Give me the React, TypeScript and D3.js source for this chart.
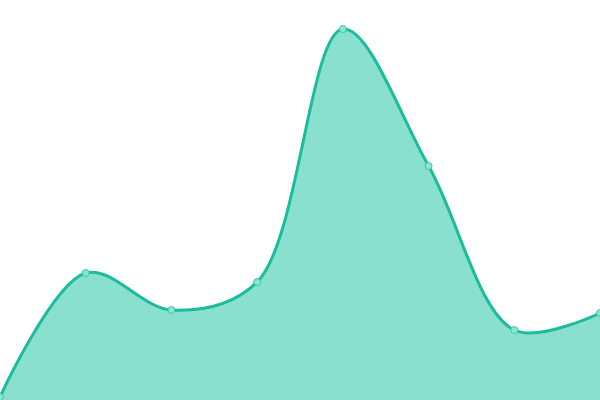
import React from "react";
import * as d3 from "d3";

const labels = ["A", "B", "C", "D", "E", "F", "G", "H"];
const values = [0.75, 31.75, 22.5, 29.5, 92.75, 58.5, 17.5, 21.75];

const W = 600;
const H = 400;

export default function App() {
  const x = d3.scalePoint<string>().domain(labels).range([0, W]);
  const y = d3.scaleLinear().domain([0, 100]).range([H, 0]);
  const curve = d3.curveCatmullRom.alpha(0.5);
  const area = d3
    .area<number>()
    .x((_, i) => x(labels[i]) as number)
    .y0(H)
    .y1((d) => y(d))
    .curve(curve);
  const line = d3
    .line<number>()
    .x((_, i) => x(labels[i]) as number)
    .y((d) => y(d))
    .curve(curve);
  return (
    <svg
      width={W}
      height={H}
      style={{ position: "fixed", left: 0, top: 0, display: "block" }}
    >
      <rect width={W} height={H} fill="#ffffff" />
      <path d={area(values) || ""} fill="#89e0cf" />
      <path d={line(values) || ""} fill="none" stroke="#1abc9c" strokeWidth={3} />
      {values.map((v, i) => (
        <circle
          key={i}
          cx={x(labels[i]) as number}
          cy={y(v)}
          r={3.5}
          fill="#8fe3d2"
          stroke="#3cc7aa"
          strokeWidth={1}
        />
      ))}
    </svg>
  );
}
